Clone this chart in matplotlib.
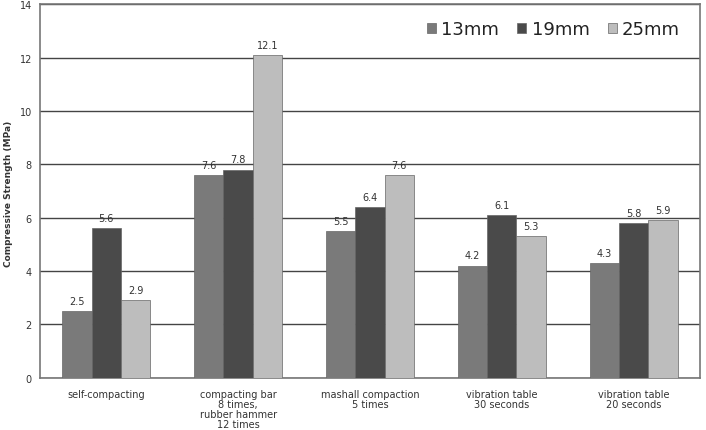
import matplotlib
matplotlib.use("Agg")
import matplotlib.pyplot as plt
import numpy as np

categories = ["self-compacting",
              "compacting bar\n8 times,\nrubber hammer\n12 times",
              "mashall compaction\n5 times",
              "vibration table\n30 seconds",
              "vibration table\n20 seconds"]
series_names = ["13mm", "19mm", "25mm"]
v13 = [2.5, 7.6, 5.5, 4.2, 4.3]
v19 = [5.6, 7.8, 6.4, 6.1, 5.8]
v25 = [2.9, 12.1, 7.6, 5.3, 5.9]
yticks = [0, 2, 4, 6, 8, 10, 12, 14]

colors = ["#7a7a7a", "#4a4a4a", "#bdbdbd"]

fig = plt.figure(figsize=(7.06, 4.31), dpi=100)
ax = fig.add_axes([0.057, 0.121, 0.934, 0.867])

x = np.arange(len(categories))
w = 0.222
for i, (vals, c, name) in enumerate(zip([v13, v19, v25], colors, series_names)):
    bars = ax.bar(x + (i - 1) * w, vals, width=w, color=c, edgecolor="#666666",
                  linewidth=0.5, label=name, zorder=3)
    for b, v in zip(bars, vals):
        ax.text(b.get_x() + b.get_width() / 2, v + 0.2, f"{v:.1f}",
                ha="center", va="bottom", fontsize=7, color="#333333", zorder=4)

ax.set_xlim(-0.5, len(categories) - 0.5)
ax.set_ylim(0, 14)
ax.set_yticks(yticks)
ax.set_yticklabels([str(t) for t in yticks], fontsize=7, color="#333333")
ax.set_xticks(x)
ax.set_xticklabels(categories, fontsize=7, color="#333333", linespacing=1.0)
ax.tick_params(axis="x", length=0, pad=8)
ax.tick_params(axis="y", length=0, pad=6)
ax.yaxis.grid(True, color="#444444", linewidth=1.0, zorder=0)
for s in ax.spines.values():
    s.set_color("#777777")
    s.set_linewidth(1.2)

fig.text(0.012, 0.55, "Compressive Strength (MPa)", rotation=90, ha="center",
         va="center", fontsize=6.5, fontweight="bold", color="#333333")

leg = ax.legend(loc="upper right", ncol=3, frameon=False, fontsize=13,
                handlelength=0.5, handleheight=0.5, handletextpad=0.3,
                columnspacing=1.0, bbox_to_anchor=(0.995, 1.0))
for t in leg.get_texts():
    t.set_color("#222222")

fig.savefig("out.png", dpi=100)
